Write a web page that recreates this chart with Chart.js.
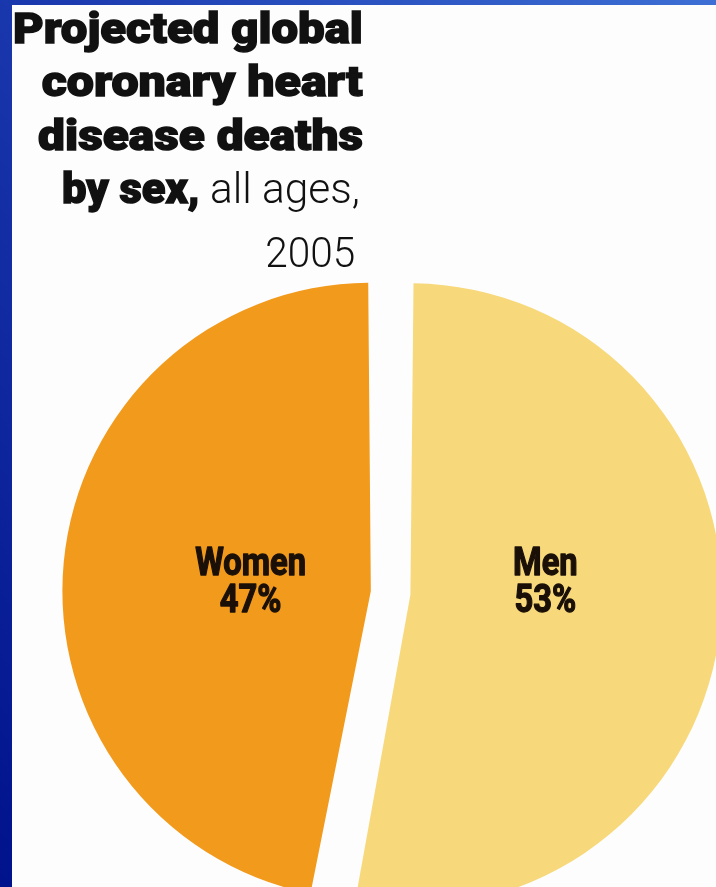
<!DOCTYPE html>
<html>
<head>
<meta charset="utf-8">
<title>Projected global coronary heart disease deaths by sex, 2005</title>
<script src="https://cdn.jsdelivr.net/npm/chart.js@4.4.1/dist/chart.umd.min.js"></script>
<style>
    html, body { margin: 0; padding: 0; overflow: hidden; }
    body {
        width: 716px; height: 887px; position: relative;
        background: linear-gradient(to bottom left, #3d6fd4 0%, #1c3bb0 45%, #00128c 100%);
    }
    .panel { position: absolute; left: 12px; top: 5px; right: 0; bottom: 0; background: #fdfdfd; }
    .chart-box { position: absolute; left: 0; top: 0; width: 782px; height: 1186px; }
    .title-line {
        position: absolute; white-space: nowrap; color: #111;
        transform-origin: right center;
        font-family: Roboto, Inter, "Liberation Sans", sans-serif;
    }
    .heavy { font-weight: 900; font-size: 43px; line-height: 43px; -webkit-text-stroke: 1.4px #111; }
    .light { font-weight: 300; font-size: 42px; line-height: 42px; -webkit-text-stroke: 0; }
</style>
</head>
<body>
<div class="panel"></div>
<div class="chart-box"><canvas id="sexChart"></canvas></div>

<div class="title-line heavy" style="top:7px; right:353px;">Projected global</div>
<div class="title-line heavy" style="top:60px; right:353px;">coronary heart</div>
<div class="title-line heavy" style="top:114px; right:353px;">disease deaths</div>
<div class="title-line heavy" style="top:167px; right:356px;">by sex,<span class="light"> all ages,</span></div>
<div class="title-line light" style="top:232px; right:361px;">2005</div>

<script>
// Data
const categories = ['Men', 'Women'];
const shares = [53, 47];

const menYellow = '#F7D87A';
const womenOrange = '#F29A1C';

document.addEventListener('DOMContentLoaded', function() {
    // squeeze the title lines to the condensed look of the original
    const titleWidths = [350, 321, 325, 298, 90];
    function fitTitle() {
        document.querySelectorAll('.title-line').forEach((el, i) => {
            el.style.transform = 'none';
            const w = el.getBoundingClientRect().width;
            el.style.transform = `scaleX(${titleWidths[i] / w})`;
        });
    }
    fitTitle();
    if (document.fonts) document.fonts.ready.then(fitTitle);

    // Labels inside the slices
    const sliceLabels = {
        id: 'sliceLabels',
        afterDatasetsDraw(chart) {
            const ctx = chart.ctx;
            const meta = chart.getDatasetMeta(0);
            meta.data.forEach((arc, i) => {
                const mid = (arc.startAngle + arc.endAngle) / 2;
                const x = arc.x + Math.cos(mid) * 148 + 7;
                const y = arc.y;
                ctx.save();
                ctx.fillStyle = '#1a1008';
                ctx.strokeStyle = '#1a1008';
                ctx.lineWidth = 1.3;
                ctx.lineJoin = 'round';
                ctx.font = 'bold 38px Roboto, "Liberation Sans", sans-serif';
                ctx.textAlign = 'center';
                ctx.textBaseline = 'alphabetic';
                ctx.translate(x, y);
                ctx.scale(0.86, 1);
                [[categories[i], -18], [shares[i] + '%', 19]].forEach(([t, dy]) => {
                    ctx.fillText(t, 0, dy);
                    ctx.strokeText(t, 0, dy);
                });
                ctx.restore();
            });
        }
    };

    new Chart(document.getElementById('sexChart'), {
        type: 'pie',
        data: {
            labels: categories,
            datasets: [{
                data: shares,
                backgroundColor: [menYellow, womenOrange],
                borderWidth: 0,
                offset: [78, 81]
            }]
        },
        options: {
            responsive: true,
            maintainAspectRatio: false,
            animation: false,
            radius: 292,
            rotation: 0,
            layout: { padding: 0 },
            plugins: {
                legend: { display: false },
                tooltip: { enabled: false }
            }
        },
        plugins: [sliceLabels]
    });
});
</script>
</body>
</html>
